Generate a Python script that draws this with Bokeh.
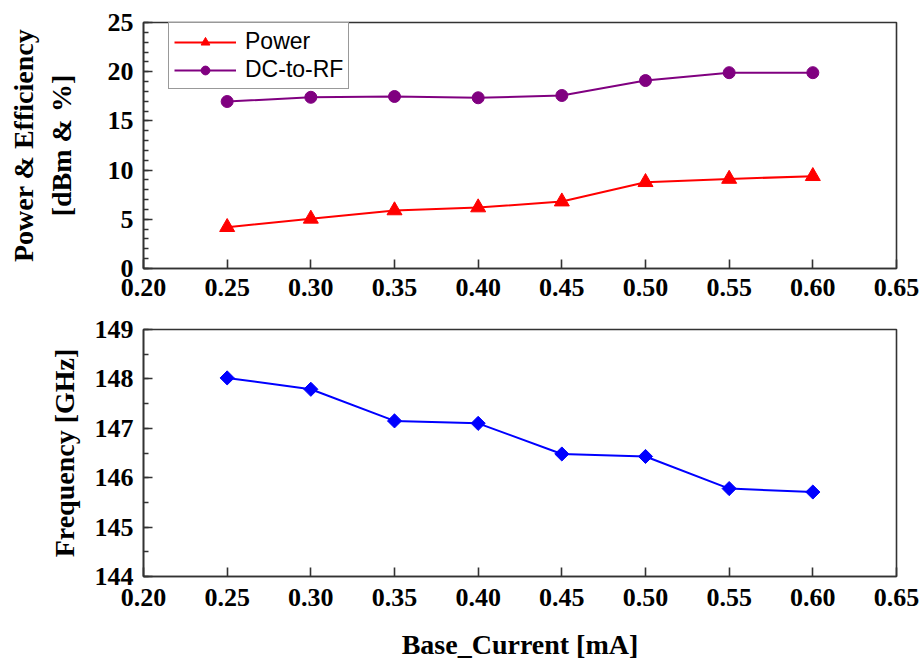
import numpy as np
from bokeh.plotting import figure
from bokeh.layouts import column
from bokeh.models import FixedTicker, PrintfTickFormatter
from bokeh.embed import file_html
from bokeh.resources import INLINE

base_current = [0.25, 0.30, 0.35, 0.40, 0.45, 0.50, 0.55, 0.60]
power_dbm = [4.2, 5.05, 5.9, 6.2, 6.8, 8.77, 9.1, 9.38]
dc_to_rf = [16.97, 17.4, 17.48, 17.35, 17.58, 19.1, 19.9, 19.9]
frequency_ghz = [148.02, 147.79, 147.15, 147.1, 146.48, 146.43, 145.78, 145.71]
x_ticks = [0.20, 0.25, 0.30, 0.35, 0.40, 0.45, 0.50, 0.55, 0.60, 0.65]
y1_ticks = [0, 5, 10, 15, 20, 25]
y2_ticks = [144, 145, 146, 147, 148, 149]

SERIF = "Liberation Serif"
SANS = "Liberation Sans"
AX = "#333333"


def style(p, yticks, nminor):
    p.outline_line_color = AX
    p.outline_line_width = 1.6
    p.xgrid.visible = False
    p.ygrid.visible = False
    p.background_fill_color = "white"
    p.border_fill_color = "white"
    p.xaxis.ticker = FixedTicker(ticks=x_ticks)
    p.xaxis.formatter = PrintfTickFormatter(format="%.2f")
    p.yaxis.ticker = FixedTicker(ticks=yticks,
                                 minor_ticks=list(np.arange(yticks[0], yticks[-1] + 1e-9,
                                                            (yticks[1] - yticks[0]) / nminor)))
    for ax in (p.xaxis[0], p.yaxis[0]):
        ax.axis_line_color = AX
        ax.axis_line_width = 1.6
        ax.major_tick_line_color = AX
        ax.major_tick_line_width = 1.6
        ax.major_tick_in = 9
        ax.major_tick_out = 0
        ax.minor_tick_line_color = AX
        ax.minor_tick_line_width = 1.3
        ax.minor_tick_in = 5
        ax.minor_tick_out = 0
        ax.major_label_text_font = SERIF
        ax.major_label_text_font_style = "bold"
        ax.major_label_text_font_size = "26px"
        ax.major_label_text_color = "black"
        ax.axis_label_text_font = SERIF
        ax.axis_label_text_font_style = "bold"
        ax.axis_label_text_font_size = "28px"
        ax.axis_label_text_color = "black"
    p.xaxis.minor_tick_line_color = None
    p.xaxis.major_label_standoff = 10
    p.yaxis.major_label_standoff = 10


p1 = figure(width=922, height=310, x_range=(0.2, 0.65), y_range=(0, 25),
            output_backend="svg", toolbar_location=None,
            min_border_left=143, min_border_right=26, min_border_top=22, min_border_bottom=42)
style(p1, y1_ticks, 5)
p1.yaxis.axis_label = "Power & Efficiency\n[dBm & %]"
p1.yaxis.axis_label_standoff = 28

p1.line(base_current, power_dbm, color="#ff0000", line_width=2, legend_label="Power")
p1.scatter(base_current, power_dbm, marker="triangle", size=15, color="#ff0000", legend_label="Power")
p1.line(base_current, dc_to_rf, color="#800080", line_width=2, legend_label="DC-to-RF")
p1.scatter(base_current, dc_to_rf, marker="circle", size=12, color="#800080", legend_label="DC-to-RF")

lg = p1.legend[0]
lg.location = (25, 179)
lg.margin = 0
lg.padding = 5
lg.spacing = 1
lg.glyph_width = 62
lg.glyph_height = 22
lg.label_height = 22
lg.label_standoff = 9
lg.label_text_font = SANS
lg.label_text_font_size = "23px"
lg.label_text_color = "black"
lg.border_line_color = AX
lg.border_line_width = 1.6
lg.background_fill_alpha = 1

p2 = figure(width=922, height=352, x_range=(0.2, 0.65), y_range=(144, 149),
            output_backend="svg", toolbar_location=None,
            min_border_left=143, min_border_right=26, min_border_top=19, min_border_bottom=85)
style(p2, y2_ticks, 2)
p2.yaxis.axis_label = "Frequency [GHz]"
p2.yaxis.axis_label_standoff = 12
p2.xaxis.axis_label = "Base_Current [mA]"
p2.xaxis.axis_label_standoff = 20
p2.xaxis.major_label_standoff = 12

p2.line(base_current, frequency_ghz, color="#0000ff", line_width=2)
p2.scatter(base_current, frequency_ghz, marker="square", angle=np.pi / 4, size=10, color="#0000ff")

layout = column(p1, p2, spacing=0)
open("out.html", "w").write(file_html(layout, INLINE))
